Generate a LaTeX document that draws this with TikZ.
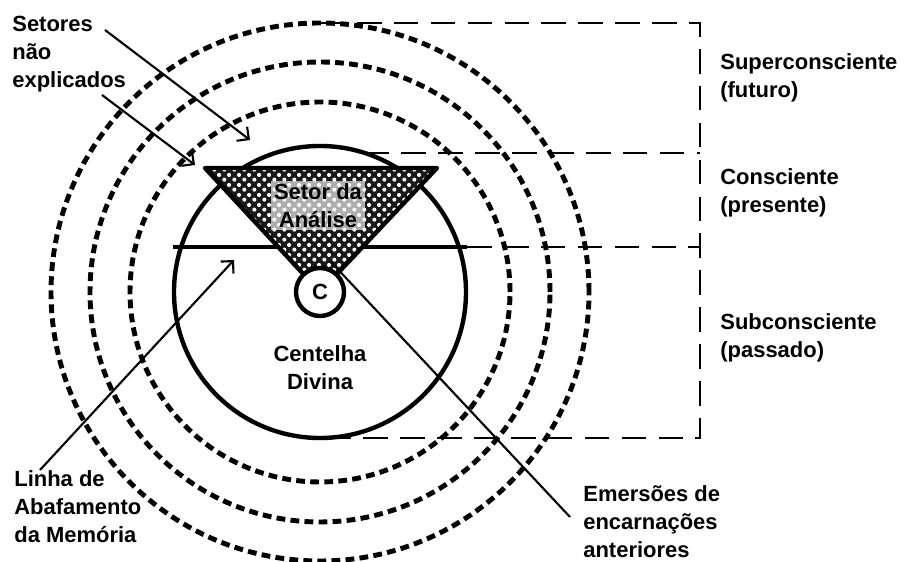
\documentclass[tikz,border=0pt]{standalone}
\usepackage{fontspec}
\setmainfont{Liberation Sans}
\usetikzlibrary{positioning,arrows.meta,calc,patterns}

\pgfdeclarepatternformonly{pontos}{\pgfqpoint{0pt}{0pt}}{\pgfqpoint{5.5pt}{5.5pt}}{\pgfqpoint{5.5pt}{5.5pt}}{%
  \pgfpathcircle{\pgfqpoint{1.375pt}{1.375pt}}{1.2pt}%
  \pgfpathcircle{\pgfqpoint{4.125pt}{4.125pt}}{1.2pt}%
  \pgfusepath{fill}%
}

\begin{document}
\begin{tikzpicture}[
  >={Straight Barb[length=5pt,width=10pt]},
  aura/.style={line width=2.8pt, dash pattern=on 5pt off 3pt},
  chave/.style={line width=1.4pt, dash pattern=on 14pt off 7pt},
  grosso/.style={line width=2.5pt},
  seta/.style={->, line width=1.2pt},
  lab/.style={font=\fontsize{12.5}{16}\selectfont\bfseries, align=left, inner sep=0pt},
  labc/.style={lab, align=center}
]
  \useasboundingbox (0,0) rectangle (18.08,11.24);
  \coordinate (O) at (6.40,5.40);

  % Circulos tracejados
  \foreach \r in {3.8,4.6,5.38}
    \draw[aura] (O) circle (\r);

  % Chave lateral
  \coordinate (cTop) at (6.40,10.78);
  \coordinate (cBot) at (6.40,2.48);
  \draw[chave] (cTop) -- (14,10.78) -- (14,2.48) -- (cBot);
  \draw[chave] (7.29,8.18) -- (14,8.18);
  \draw[chave] (9.34,6.30) -- (14,6.30);

  % Circulo e linha de abafamento
  \draw[grosso] (O) circle (2.92);
  \draw[grosso] (3.46,6.30) -- (9.34,6.30);

  % Setor da Analise
  \coordinate (tA) at (4.10,7.88);
  \coordinate (tB) at (8.74,7.88);
  \fill[black!90] (tA) -- (tB) -- (O) -- cycle;
  \fill[pattern=pontos, pattern color=white] (tA) -- (tB) -- (O) -- cycle;
  \draw[grosso, line join=round] (tA) -- (tB) -- (O) -- cycle;
  \node[labc, fill=white, fill opacity=0.65, text opacity=1, inner sep=1.5pt] (setor) at (6.36,7.13) {Setor da\\Análise};

  % Emersoes
  \coordinate (emer) at (6.62,6.00);
  \coordinate (emerFim) at (11.40,0.90);
  \draw[line width=1.2pt] (emer) -- (emerFim);

  % Centelha
  \node[circle, grosso, draw, fill=white, minimum size=0.96cm, inner sep=0pt, font=\fontsize{12.5}{16}\selectfont\bfseries] (C) at (O) {C};
  \node[labc] (centelha) at (6.40,3.89) {Centelha\\Divina};

  % Rotulos
  \node[lab, anchor=west] (setores) at (0.24,10.16) {Setores\\não\\explicados};
  \node[lab, anchor=west] (linha) at (0.28,1.10) {Linha de\\Abafamento\\da Memória};
  \node[lab, anchor=west] (emersoes) at (11.66,0.80) {Emersões de\\encarnações\\anteriores};
  \node[lab, anchor=west] (superc) at (14.40,9.68) {Superconsciente\\(futuro)};
  \node[lab, anchor=west] (consc) at (14.40,7.39) {Consciente\\(presente)};
  \node[lab, anchor=west] (subc) at (14.40,4.49) {Subconsciente\\(passado)};

  \coordinate (s1) at (2.10,10.64);
  \coordinate (s1Fim) at (5.00,8.44);
  \coordinate (s2) at (2.04,9.34);
  \coordinate (s2Fim) at (3.90,7.94);
  \coordinate (l1) at (0.80,1.84);
  \coordinate (l1Fim) at (4.68,6.04);
  \draw[seta] (s1) -- (s1Fim);
  \draw[seta] (s2) -- (s2Fim);
  \draw[seta] (l1) -- (l1Fim);
\end{tikzpicture}
\end{document}
